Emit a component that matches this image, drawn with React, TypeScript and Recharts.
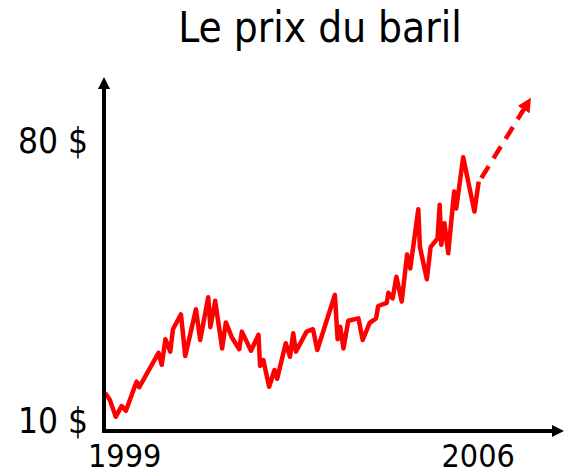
import { LineChart, Line, XAxis, YAxis } from "recharts"

// prix mensuel du baril
const years = [
  1999.02, 1999.11, 1999.22, 1999.33, 1999.41, 1999.61, 1999.66, 2000.02, 2000.08, 2000.15,
  2000.24, 2000.29, 2000.44, 2000.52, 2000.72, 2000.8, 2000.95, 2000.99, 2001.08, 2001.21,
  2001.28, 2001.39, 2001.53, 2001.58, 2001.75, 2001.89, 2001.92, 2001.98, 2002.09, 2002.19,
  2002.24, 2002.4, 2002.48, 2002.54, 2002.59, 2002.79, 2002.91, 2002.99, 2003.32, 2003.37,
  2003.42, 2003.48, 2003.57, 2003.76, 2003.84, 2003.97, 2004.09, 2004.13, 2004.29, 2004.32,
  2004.4, 2004.47, 2004.57, 2004.67, 2004.73, 2004.88, 2004.91, 2005.04, 2005.11, 2005.24,
  2005.28, 2005.31, 2005.37, 2005.44, 2005.55, 2005.59, 2005.72, 2005.93, 2006.01,
]
const prices = [
  16.8, 15.0, 10.8, 13.5, 12.3, 19.6, 18.2, 26.8, 23.8, 30.2,
  27.1, 32.7, 36.4, 26.0, 37.7, 30.0, 40.7, 33.2, 39.8, 27.9,
  34.4, 30.7, 27.7, 32.1, 27.3, 31.3, 23.5, 25.0, 18.3, 22.5,
  20.3, 29.2, 25.8, 31.7, 27.1, 32.1, 32.7, 27.5, 41.3, 30.2,
  33.3, 27.9, 34.8, 35.4, 30.0, 34.3, 35.4, 38.5, 39.3, 41.8,
  40.4, 45.8, 39.6, 51.4, 47.9, 62.7, 53.3, 45.2, 53.2, 55.4,
  63.8, 53.8, 59.2, 51.7, 67.1, 62.9, 75.7, 62.1, 69.6,
]

// tendance (flèche pointillée)
const projYears = [2006.06, 2006.86]
const projPrices = [70.5, 87.8]

const xTicks = [1999, 2006]
const yTicks = [10, 80]
const yTickLabels = ["10 $", "80 $"]

const priceData = years.map((year, i) => ({ year, price: prices[i] }))
const projData = projYears.map((year, i) => ({ year, price: projPrices[i] }))

const FONT = "'DejaVu Sans Condensed', 'DejaVu Sans', sans-serif"

const YTick = (props: any) => {
  const { x, y, index } = props
  return (
    <text x={x - 16} y={y} dy={12.5} textAnchor="end" fontSize={35} fontFamily={FONT} fill="#000">
      {yTickLabels[index]}
    </text>
  )
}

const XTick = (props: any) => {
  const { x, y, index, payload } = props
  const first = index === 0
  return (
    <text
      x={first ? x - 16 : x}
      y={y + 36}
      textAnchor={first ? "start" : "middle"}
      fontSize={32}
      fontFamily={FONT}
      fill="#000"
    >
      {payload.value}
    </text>
  )
}

export default function App() {
  return (
    <div style={{ position: "absolute", left: 0, top: 0, width: 565, height: 475, background: "#fff" }}>
      <svg width={0} height={0} style={{ position: "absolute" }}>
        <defs>
          <marker
            id="axisArrow"
            viewBox="0 0 12 12"
            markerWidth={12}
            markerHeight={12}
            refX={1}
            refY={6}
            orient="auto-start-reverse"
            markerUnits="userSpaceOnUse"
          >
            <path d="M0,0 L12,6 L0,12 Z" fill="#000" />
          </marker>
          <marker
            id="redArrow"
            viewBox="0 0 14 14"
            markerWidth={14}
            markerHeight={14}
            refX={1}
            refY={7}
            orient="auto"
            markerUnits="userSpaceOnUse"
          >
            <path d="M0,0 L14,7 L0,14 Z" fill="#ff0000" />
          </marker>
        </defs>
      </svg>

      <div
        style={{
          position: "absolute",
          left: 0,
          top: 7,
          width: 640,
          textAlign: "center",
          fontFamily: FONT,
          fontSize: 42,
          lineHeight: "42px",
          color: "#000",
        }}
      >
        Le prix du baril
      </div>

      <LineChart
        width={565}
        height={475}
        margin={{ top: 88, right: 12, bottom: 0, left: 4 }}
        style={{ overflow: "visible" }}
      >
        <XAxis
          type="number"
          dataKey="year"
          domain={[1999, 2007.4]}
          ticks={xTicks}
          interval={0}
          allowDataOverflow
          height={44}
          tickSize={0}
          tickMargin={0}
          tickLine={false}
          tick={<XTick />}
          axisLine={{ stroke: "#000", strokeWidth: 4, strokeLinecap: "square", markerEnd: "url(#axisArrow)" }}
        />
        <YAxis
          type="number"
          dataKey="price"
          domain={[7.25, 93]}
          ticks={yTicks}
          interval={0}
          allowDataOverflow
          width={100}
          tickSize={0}
          tickMargin={0}
          tickLine={false}
          tick={<YTick />}
          axisLine={{ stroke: "#000", strokeWidth: 4, strokeLinecap: "square", markerStart: "url(#axisArrow)" }}
        />
        <Line
          data={priceData}
          dataKey="price"
          type="linear"
          stroke="#ff0000"
          strokeWidth={4.5}
          strokeLinejoin="round"
          dot={false}
          activeDot={false}
          isAnimationActive={false}
        />
        <Line
          data={projData}
          dataKey="price"
          type="linear"
          stroke="#ff0000"
          strokeWidth={4.5}
          strokeDasharray="14 9"
          markerEnd="url(#redArrow)"
          dot={false}
          activeDot={false}
          isAnimationActive={false}
        />
      </LineChart>
    </div>
  )
}
